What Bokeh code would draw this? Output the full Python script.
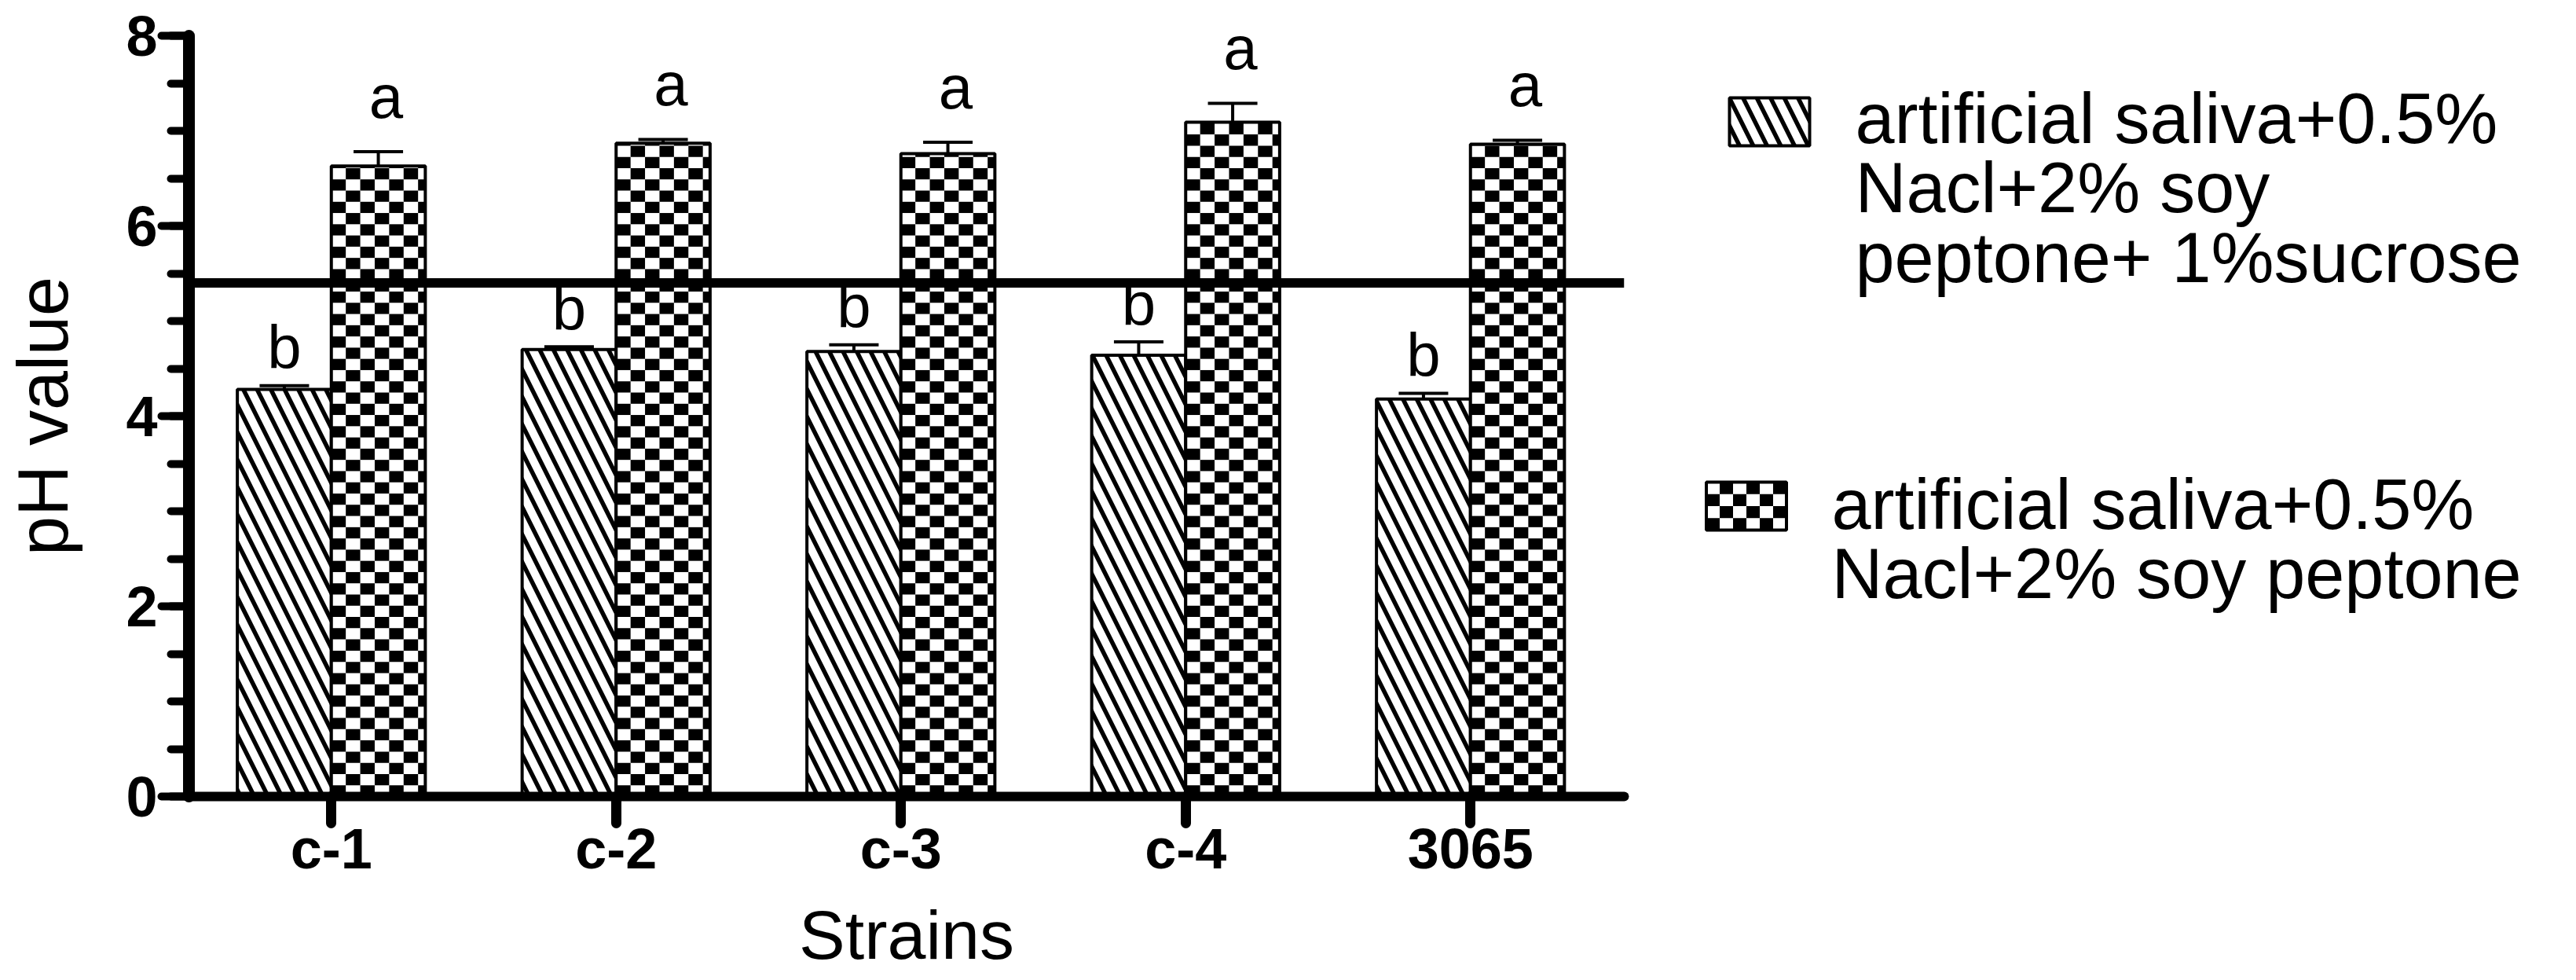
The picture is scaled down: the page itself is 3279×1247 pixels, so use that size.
import numpy as np
from bokeh.plotting import figure
from bokeh.models import (ColumnDataSource, Range1d, FixedTicker, Span, Whisker, TeeHead)
from bokeh.layouts import row
from bokeh.core.properties import value
from bokeh.embed import file_html
from bokeh.resources import INLINE

# ---------------- data ----------------
strains = ["c-1", "c-2", "c-3", "c-4", "3065"]
ph_sucrose = [4.28, 4.70, 4.68, 4.64, 4.18]      # saliva + NaCl + soy peptone + 1% sucrose
err_sucrose = [0.04, 0.03, 0.07, 0.14, 0.06]
ph_peptone = [6.63, 6.87, 6.76, 7.09, 6.86]      # saliva + NaCl + soy peptone
err_peptone = [0.15, 0.04, 0.12, 0.20, 0.04]
letters_sucrose = ["b", "b", "b", "b", "b"]
letters_peptone = ["a", "a", "a", "a", "a"]
reference_ph = 5.4
y_major_ticks = [0, 2, 4, 6, 8]
y_minor_step = 0.5
legend_sucrose = ["artificial saliva+0.5%", "Nacl+2% soy", "peptone+ 1%sucrose"]
legend_peptone = ["artificial saliva+0.5%", "Nacl+2% soy peptone"]
x_title = "Strains"
y_title = "pH value"

FONT = "Liberation Sans"

HATCH = dict(fill_color="white", line_color="black", line_width=4,
             hatch_pattern="left_diagonal_line", hatch_color="black",
             hatch_scale=35, hatch_weight=5.5)


def checker_cells(xc, tops, width, cell_w, cell_h, base=0.0):
    """Black cells of a checkerboard filling bars centred at xc from base to top."""
    L, R, B, T = [], [], [], []
    for x, top in zip(xc, tops):
        x0 = x - width / 2
        ncol = int(np.ceil(width / cell_w - 1e-9))
        nrow = int(np.ceil((top - base) / cell_h - 1e-9))
        for i in range(ncol):
            for j in range(nrow):
                if (i + j) % 2 == 0:
                    L.append(x0 + i * cell_w)
                    R.append(min(x0 + (i + 1) * cell_w, x0 + width))
                    B.append(base + j * cell_h)
                    T.append(min(base + (j + 1) * cell_h, top))
    return dict(left=L, right=R, bottom=B, top=T)


# ---------------- main plot ----------------
W1, H = 2077, 1247
BORDER_TOP, BORDER_BOTTOM = 45, 234
X_START, X_END = -0.5, 4.54
p = figure(width=W1, height=H, x_range=Range1d(X_START, X_END), y_range=Range1d(0, 8),
           output_backend="svg", toolbar_location=None,
           min_border_left=240, min_border_right=10,
           min_border_top=BORDER_TOP, min_border_bottom=BORDER_BOTTOM)
p.outline_line_color = None
p.xgrid.visible = False
p.ygrid.visible = False
p.background_fill_color = "white"
p.border_fill_color = "white"

idx = np.arange(len(strains))
bw = 0.33
s_up = np.array(ph_sucrose) + np.array(err_sucrose)
p_up = np.array(ph_peptone) + np.array(err_peptone)
src_s = ColumnDataSource(dict(x=idx - bw / 2, top=ph_sucrose, upper=s_up,
                              label=letters_sucrose, ly=s_up + 0.40))
src_p = ColumnDataSource(dict(x=idx + bw / 2, top=ph_peptone, upper=p_up,
                              label=letters_peptone, ly=p_up + 0.58))

# hatched bars
p.vbar(x="x", top="top", width=bw, source=src_s, **HATCH)
# checkerboard bars: white base, black cells, black outline
p.vbar(x="x", top="top", width=bw, source=src_p, fill_color="white", line_color=None)
p.quad(source=ColumnDataSource(checker_cells(idx + bw / 2, ph_peptone, bw,
                                             bw / 6.5, 0.118)),
       left="left", right="right", bottom="bottom", top="top",
       fill_color="black", line_color=None)
p.vbar(x="x", top="top", width=bw, source=src_p, fill_color=None,
       line_color="black", line_width=4)

for src in (src_s, src_p):
    p.add_layout(Whisker(source=src, base="x", upper="upper", lower="top",
                         line_color="black", line_width=4,
                         upper_head=TeeHead(size=63, line_width=4, line_color="black"),
                         lower_head=None))

p.text(x="x", y="ly", text="label", source=src_s, text_font=value(FONT),
       text_font_size="78px", text_align="center", text_baseline="alphabetic",
       text_color="black")
p.text(x="x", y="ly", text="label", source=src_p, text_font=value(FONT),
       text_font_size="78px", text_align="center", text_baseline="alphabetic",
       text_color="black", x_offset=10)

p.add_layout(Span(location=reference_ph, dimension="width", line_color="black",
                  line_width=12))

xa = p.xaxis[0]
xa.ticker = FixedTicker(ticks=[int(i) for i in idx], minor_ticks=[])
xa.major_label_overrides = {int(i): s for i, s in zip(idx, strains)}
xa.axis_line_color = "black"
xa.axis_line_width = 12
xa.axis_line_cap = "round"
xa.major_tick_line_color = "black"
xa.major_tick_line_width = 13
xa.major_tick_line_cap = "round"
xa.major_tick_out = 34
xa.major_tick_in = 0
xa.major_label_text_font = FONT
xa.major_label_text_font_size = "72px"
xa.major_label_text_font_style = "bold"
xa.major_label_text_color = "black"
xa.major_label_standoff = -8
xa.axis_label = x_title
xa.axis_label_text_font = FONT
xa.axis_label_text_font_size = "88px"
xa.axis_label_text_font_style = "normal"
xa.axis_label_text_color = "black"
xa.axis_label_standoff = 17

ya = p.yaxis[0]
ya.ticker = FixedTicker(ticks=y_major_ticks,
                        minor_ticks=list(np.arange(0, 8 + 1e-9, y_minor_step)))
ya.axis_line_color = "black"
ya.axis_line_width = 15
ya.axis_line_cap = "round"
ya.major_tick_line_color = "black"
ya.major_tick_line_width = 10
ya.major_tick_line_cap = "round"
ya.major_tick_out = 35
ya.major_tick_in = 0
ya.minor_tick_line_width = 10
ya.minor_tick_line_cap = "round"
ya.minor_tick_out = 23
ya.minor_tick_in = 0
ya.minor_tick_line_color = "black"
ya.major_label_text_font = FONT
ya.major_label_text_font_size = "72px"
ya.major_label_text_font_style = "bold"
ya.major_label_text_color = "black"
ya.major_label_standoff = 5
ya.axis_label = y_title
ya.axis_label_text_font = FONT
ya.axis_label_text_font_size = "90px"
ya.axis_label_text_font_style = "normal"
ya.axis_label_text_color = "black"
ya.axis_label_standoff = 52

# ---------------- legend panel (coordinates: pixels, y measured up from the bottom) ----
W2 = 3279 - W1
leg = figure(width=W2, height=H, x_range=Range1d(0, W2),
             y_range=Range1d(BORDER_BOTTOM, H - BORDER_TOP),
             x_axis_type=None, y_axis_type=None, output_backend="svg",
             toolbar_location=None, min_border_left=0, min_border_right=0,
             min_border_top=BORDER_TOP, min_border_bottom=BORDER_BOTTOM)
leg.outline_line_color = None
leg.xgrid.visible = False
leg.ygrid.visible = False
leg.border_fill_color = "white"

SW, SH = 102, 61
sw1 = dict(x=[175.0], y=[1092.5])
sw2 = dict(x=[145.5], y=[603.5])
leg.rect(x=sw1["x"], y=sw1["y"], width=SW, height=SH, **HATCH)
leg.rect(x=sw2["x"], y=sw2["y"], width=SW, height=SH, fill_color="white", line_color=None)
leg.quad(source=ColumnDataSource(checker_cells(sw2["x"], [sw2["y"][0] + SH / 2], SW,
                                               SW / 6, SH / 4, base=sw2["y"][0] - SH / 2)),
         left="left", right="right", bottom="bottom", top="top",
         fill_color="black", line_color=None)
leg.rect(x=sw2["x"], y=sw2["y"], width=SW, height=SH, fill_color=None,
         line_color="black", line_width=4)

line_gap = 88.5
leg.text(x=[284] * len(legend_sucrose),
         y=[1097 - k * line_gap for k in range(len(legend_sucrose))],
         text=legend_sucrose, text_font=value(FONT), text_font_size="90px",
         text_baseline="alphabetic", text_align="left", text_color="black")
leg.text(x=[254] * len(legend_peptone),
         y=[606 - k * line_gap for k in range(len(legend_peptone))],
         text=legend_peptone, text_font=value(FONT), text_font_size="90px",
         text_baseline="alphabetic", text_align="left", text_color="black")

layout = row(p, leg)
open("out.html", "w").write(file_html(layout, INLINE))
